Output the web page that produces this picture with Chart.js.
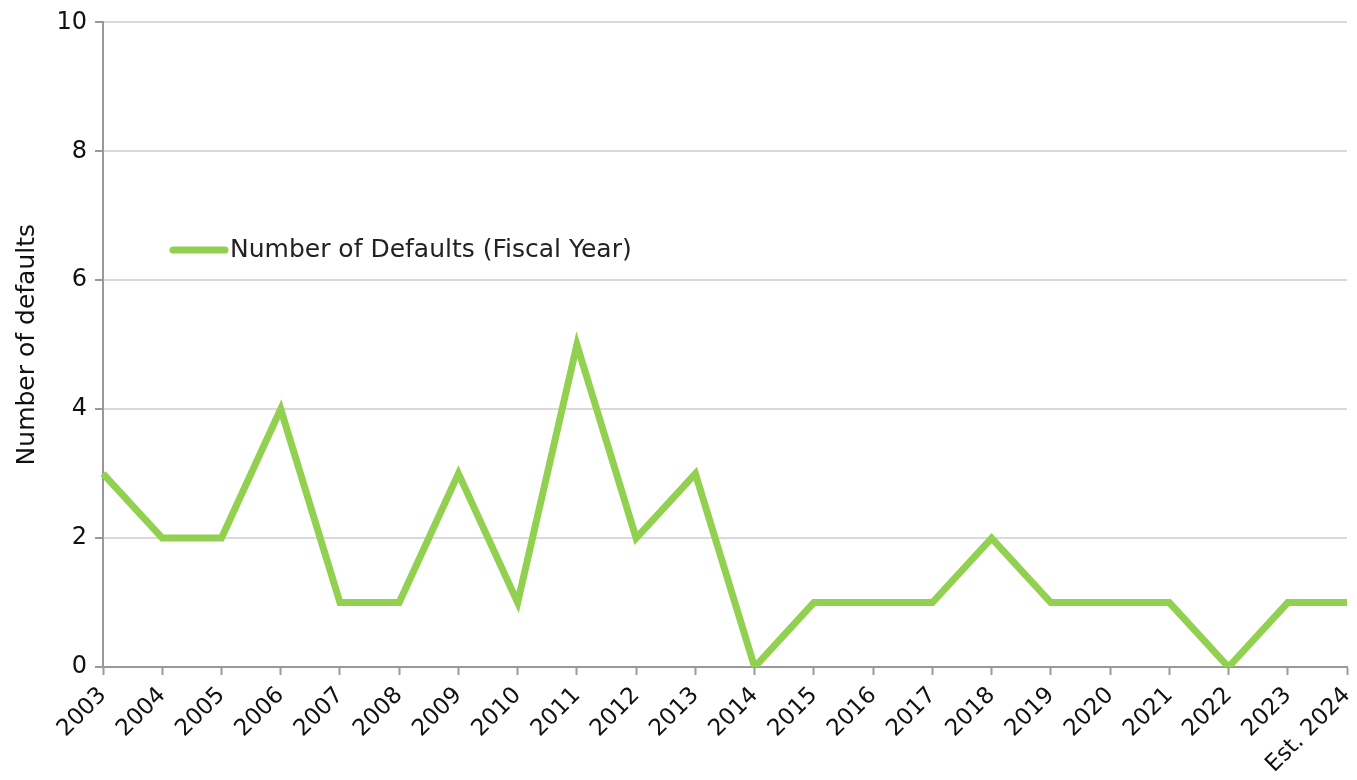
<!DOCTYPE html>
<html>
<head>
<meta charset="utf-8">
<script src="https://cdn.jsdelivr.net/npm/chart.js@4.4.0/dist/chart.umd.min.js"></script>
<style>
  html, body { margin: 0; padding: 0; background: #fff; }
  #wrap { width: 1357px; height: 780px; }
</style>
</head>
<body>
<div id="wrap"><canvas id="grafico"></canvas></div>
<script>
// datos
const anios = ['2003','2004','2005','2006','2007','2008','2009','2010','2011','2012','2013',
  '2014','2015','2016','2017','2018','2019','2020','2021','2022','2023','Est. 2024'];
const defaults = [3, 2, 2, 4, 1, 1, 3, 1, 5, 2, 3, 0, 1, 1, 1, 2, 1, 1, 1, 0, 1, 1];
const serieNombre = 'Number of Defaults (Fiscal Year)';
const yTitulo = 'Number of defaults';

const fuente = "'DejaVu Sans', sans-serif";
const verde = '#92D050';

// leyenda dentro del area del grafico
const leyendaInterna = {
  id: 'leyendaInterna',
  afterDraw(chart) {
    const ctx = chart.ctx;
    const x0 = 170, y0 = 250;
    ctx.save();
    ctx.strokeStyle = verde;
    ctx.lineWidth = 7;
    ctx.lineCap = 'round';
    ctx.beginPath();
    ctx.moveTo(x0 + 3, y0);
    ctx.lineTo(x0 + 55, y0);
    ctx.stroke();
    ctx.fillStyle = '#222';
    ctx.font = '25px ' + fuente;
    ctx.textBaseline = 'middle';
    ctx.fillText(serieNombre, x0 + 60, y0);
    ctx.restore();
  }
};

const ctx = document.getElementById('grafico').getContext('2d');
const chart = new Chart(ctx, {
  type: 'line',
  data: {
    labels: anios,
    datasets: [{
      label: serieNombre,
      data: defaults,
      borderColor: verde,
      backgroundColor: verde,
      borderWidth: 7,
      pointRadius: 0,
      tension: 0,
      borderJoinStyle: 'miter'
    }]
  },
  options: {
    responsive: true,
    maintainAspectRatio: false,
    animation: false,
    layout: { padding: { top: 18, right: 10, left: 0, bottom: 0 } },
    plugins: {
      legend: { display: false },
      tooltip: { enabled: false }
    },
    scales: {
      x: {
        offset: false,
        grid: {
          display: true,
          drawOnChartArea: false,
          tickLength: 8,
          tickColor: '#999',
          tickWidth: 2
        },
        border: { color: '#999', width: 2 },
        ticks: {
          color: '#111',
          font: { family: fuente, size: 23 },
          maxRotation: 45,
          minRotation: 45,
          autoSkip: false,
          padding: 7
        },
        afterFit(scale) {
          scale.height = 113;
          scale.paddingRight = 0;
          scale.paddingLeft = 0;
        }
      },
      y: {
        min: 0,
        max: 10,
        ticks: {
          stepSize: 2,
          color: '#111',
          font: { family: fuente, size: 24 },
          padding: 8
        },
        grid: {
          color: '#d9d9d9',
          lineWidth: 2,
          tickLength: 8,
          tickColor: '#999',
          tickWidth: 2
        },
        border: { color: '#999', width: 2 },
        title: {
          display: true,
          text: yTitulo,
          color: '#111',
          font: { family: fuente, size: 25 },
          padding: { top: 12, bottom: 0 }
        },
        afterFit(scale) { scale.width = 103; }
      }
    }
  },
  plugins: [leyendaInterna]
});
</script>
</body>
</html>
